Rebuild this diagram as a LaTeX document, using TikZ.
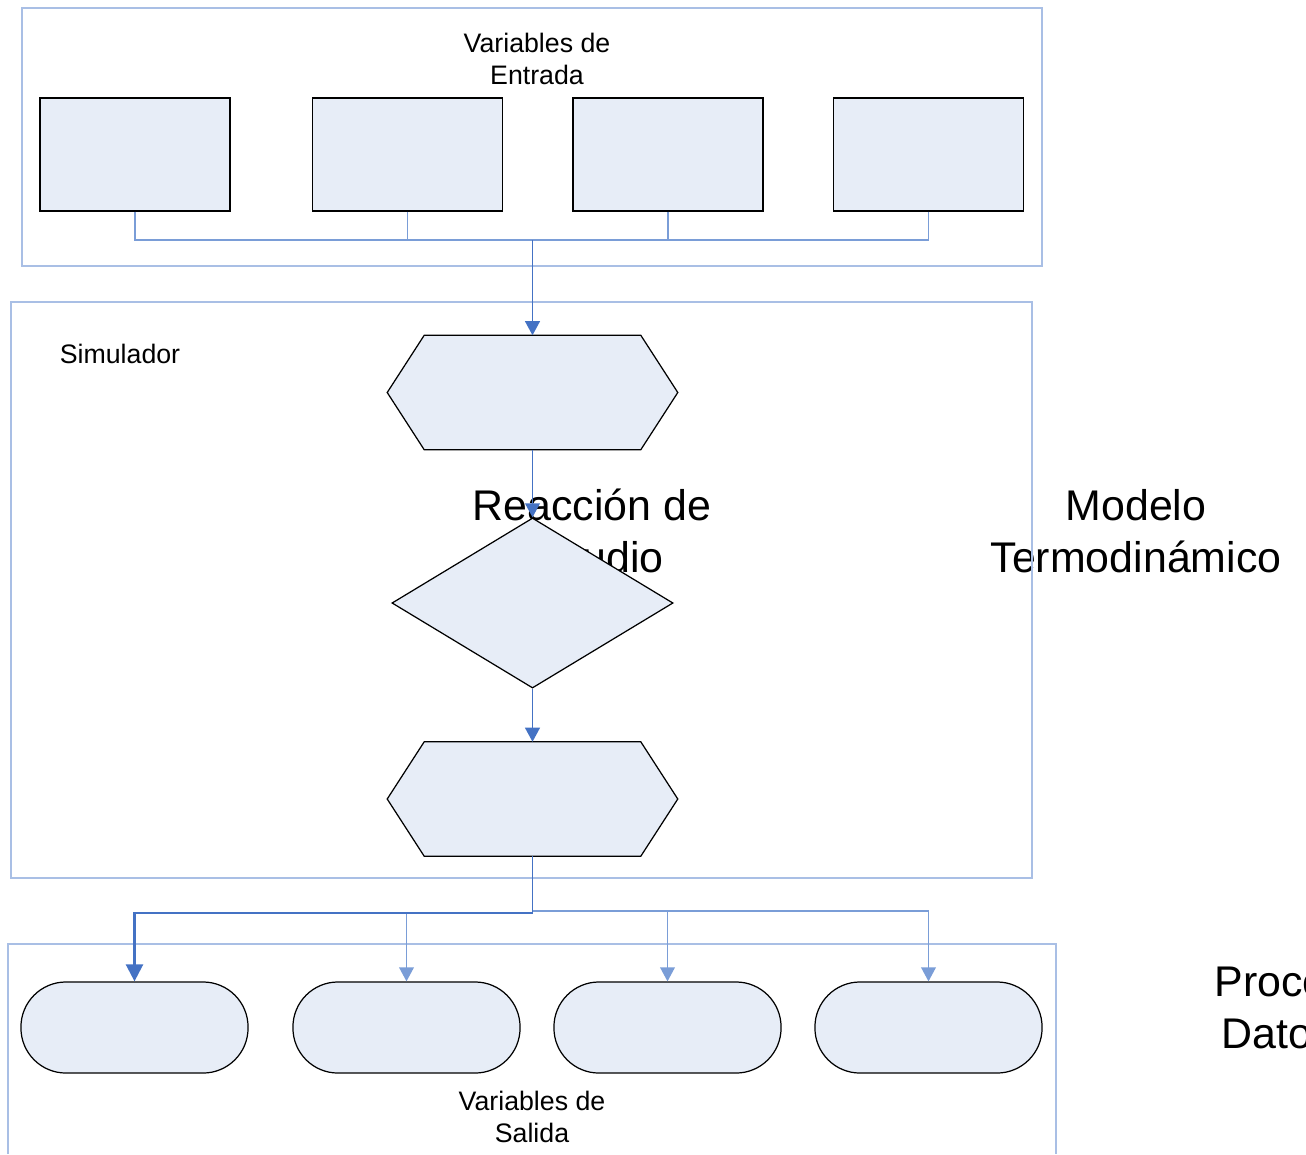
\documentclass[tikz,border=0pt]{standalone}
\usepackage{fontspec}
\setmainfont{Liberation Sans}
\usetikzlibrary{arrows.meta,calc,shapes.geometric,positioning}

\definecolor{boxfill}{RGB}{231,237,247}
\definecolor{framecol}{RGB}{169,191,229}
\definecolor{wirelight}{RGB}{122,157,215}
\definecolor{wiredark}{RGB}{68,114,196}

\tikzset{
  frame/.style={draw=framecol,line width=0.6pt},
  inbox/.style={draw,fill=boxfill,line width=0.35pt,minimum width=1.9cm,minimum height=1.13cm,inner sep=0pt},
  outbox/.style={draw,fill=boxfill,line width=0.35pt,minimum width=2.27cm,minimum height=0.91cm,rounded corners=0.45cm,inner sep=0pt},
  hexarea/.style={minimum width=2.89cm,minimum height=1.13cm,inner sep=0pt},
  hexline/.style={draw,fill=boxfill,line width=0.35pt},
  decbox/.style={diamond,draw,fill=boxfill,line width=0.35pt,minimum width=2.81cm,minimum height=1.70cm,inner sep=0pt},
  wire/.style={draw=wirelight,line width=0.4pt},
  mainwire/.style={draw=wiredark,line width=0.5pt},
  thickwire/.style={draw=wiredark,line width=0.7pt},
  smalltext/.style={align=center,font=\fontsize{7.6}{9.1}\selectfont,inner sep=0pt},
  bigtext/.style={align=center,font=\fontsize{12.2}{14.8}\selectfont,inner sep=0pt},
  >={Triangle[length=4pt,width=4.2pt]}
}

% hexagon drawn over an empty node
\newcommand{\hexoutline}[1]{%
  \draw[hexline] (#1.west) -- ($(#1.north west)+(37,0)$) -- ($(#1.north east)+(-37,0)$)
    -- (#1.east) -- ($(#1.south east)+(-37,0)$) -- ($(#1.south west)+(37,0)$) -- cycle;}

\begin{document}
\begin{tikzpicture}[x=0.01cm,y=-0.01cm]
        \useasboundingbox (0,0) rectangle (1306,1154);
        \node[bigtext] (reac) at (592,531) {Reacción de\\Estudio};
        \node[bigtext] (model) at (1136,531) {Modelo\\Termodinámico};
        \begin{scope}
          \clip (0,0) rectangle (1306,1154);
          \node[bigtext,align=left,anchor=west] (proc) at (1214,1007) {Procesamiento de\\\hspace*{2pt}Datos};
        \end{scope}
        % frames
        \draw [frame] (22,8) rectangle (1042,266);
        \draw [frame] (11,302) rectangle (1032,878);
        \draw [frame] (8,1154) |- (1056,944) -- (1056,1154);
        \node[smalltext] (entrada) at (537,59) {Variables de\\Entrada};
        \node[smalltext] (sim) at (120,354) {Simulador};
        \node[smalltext] (salida) at (532,1117) {Variables de\\Salida};
        \node[inbox] (in1) at (135,154.5) {};
        \node[inbox] (in2) at (407.5,154.5) {};
        \node[inbox] (in3) at (668,154.5) {};
        \node[inbox] (in4) at (928.5,154.5) {};
        \node[hexarea] (hex1) at (532.5,392.5) {};
        \hexoutline{hex1}
        \node[decbox] (dec) at (532.5,603) {};
        \node[hexarea] (hex2) at (532.5,799) {};
        \hexoutline{hex2}
        \node[outbox] (out1) at (134.5,1027.5) {};
        \node[outbox] (out2) at (406.5,1027.5) {};
        \node[outbox] (out3) at (667.5,1027.5) {};
        \node[outbox] (out4) at (928.5,1027.5) {};
        \coordinate (jin) at (532.5,240);
        \coordinate (jout) at (532.5,913);
        \coordinate (jright) at (532.5,911);
        \draw [wire] (in1.south) |- (jin);
        \draw [wire] (in2.south) |- (jin);
        \draw [wire] (in3.south) |- (jin);
        \draw [wire] (in4.south) |- (jin);
        \draw [mainwire] [->] (jin) -- (hex1.north);
        \draw [mainwire] [->] (hex1.south) -- (dec.north);
        \draw [mainwire] [->] (dec.south) -- (hex2.north);
        \draw [mainwire] (hex2.south) -- (jout);
        \draw [wire] [->] (jout) -| (out2.north);
        \draw [wire] [->] (jright) -| (out3.north);
        \draw [wire] [->] (jright) -| (out4.north);
        \draw [thickwire] [-{Triangle[length=4.8pt,width=4.8pt]}] (jout) -| (out1.north);
      \end{tikzpicture}
\end{document}
